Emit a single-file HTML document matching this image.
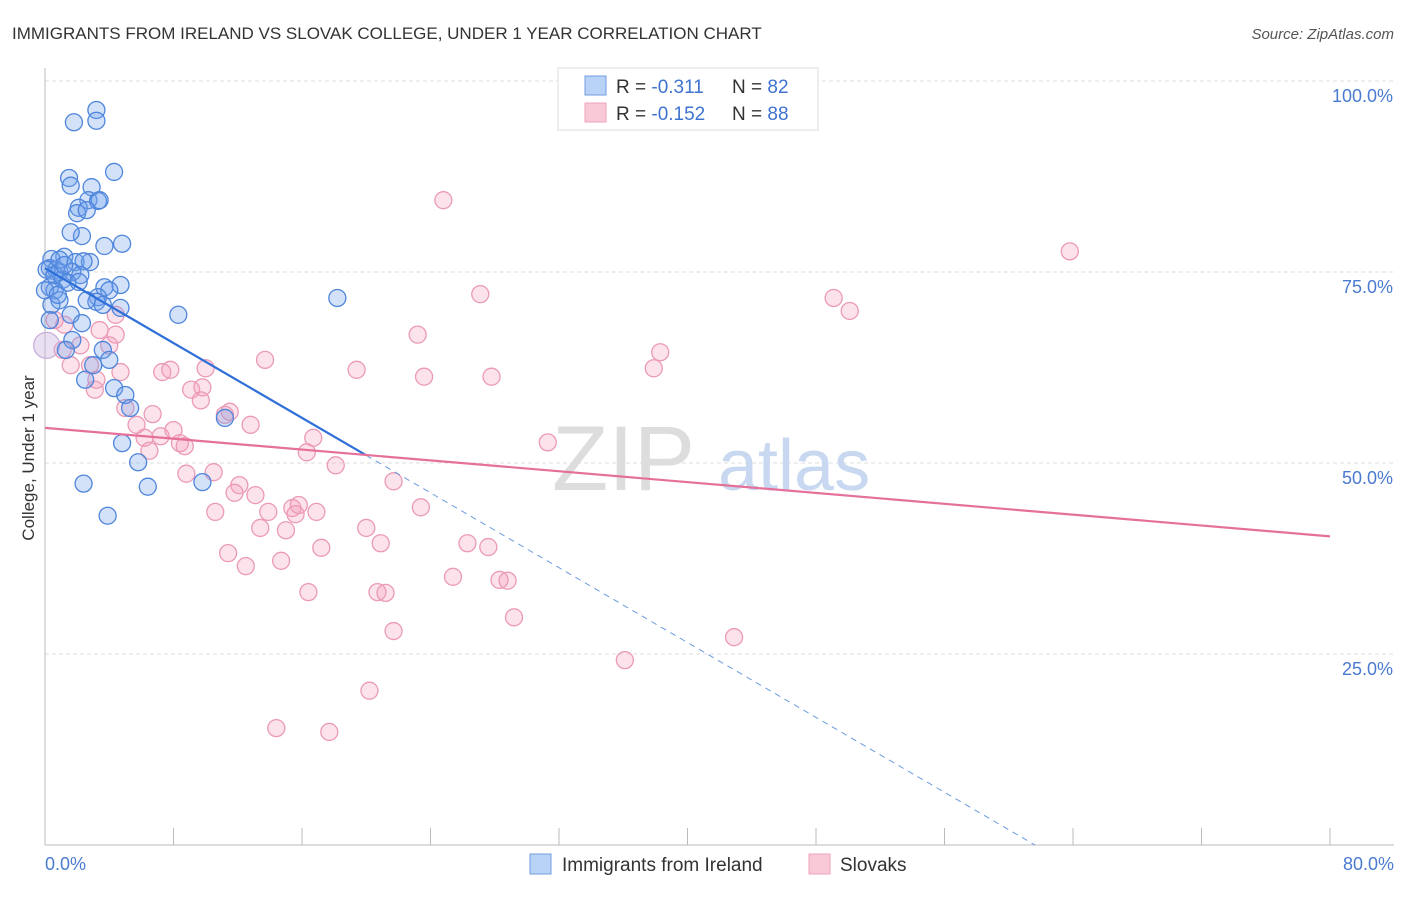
<!DOCTYPE html>
<html><head><meta charset="utf-8"><style>
body{margin:0;background:#fff;font-family:"Liberation Sans",sans-serif;}
svg text{font-family:"Liberation Sans",sans-serif;}
</style></head><body>
<svg id="chart" width="1406" height="892" viewBox="0 0 1406 892">
<text x="12" y="39" font-size="17" fill="#333">IMMIGRANTS FROM IRELAND VS SLOVAK COLLEGE, UNDER 1 YEAR CORRELATION CHART</text>
<text x="1394" y="39" font-size="15" fill="#555" font-style="italic" text-anchor="end">Source: ZipAtlas.com</text>
<g id="grid"></g>
<g><text x="552" y="490" font-size="92" fill="#ddd" font-family="Liberation Serif">ZIP</text><text x="718" y="490" font-size="72" fill="#c8d8f0">atlas</text></g>
<line x1="45" y1="68" x2="45" y2="845" stroke="#bbb"/>
<line x1="45" y1="845" x2="1394" y2="845" stroke="#bbb"/>
<g id="ticks"></g>
<g id="ylabels"></g>
<text x="34" y="458" font-size="17" fill="#333" text-anchor="middle" transform="rotate(-90 34 458)">College, Under 1 year</text>
<text x="45" y="870" font-size="18" fill="#4a7bd0">0.0%</text>
<text x="1394" y="870" font-size="18" fill="#4a7bd0" text-anchor="end">80.0%</text>
<g id="pinkPts"></g>
<g id="bluePts"></g>
<g id="trends"></g>
<g>
<rect x="558" y="68" width="260" height="62" fill="#fff" stroke="#ddd"/>
<rect x="585" y="76" width="21" height="19" fill="#b9d3f7" stroke="#6f9de0"/>
<rect x="585" y="103" width="21" height="19" fill="#f9c9d8" stroke="#eea3bc"/>
<text x="616" y="93" font-size="19" fill="#333">R = <tspan fill="#3f73d0">-0.311</tspan><tspan x="732">N = </tspan><tspan fill="#3f73d0">82</tspan></text>
<text x="616" y="120" font-size="19" fill="#333">R = <tspan fill="#3f73d0">-0.152</tspan><tspan x="732">N = </tspan><tspan fill="#3f73d0">88</tspan></text>
</g>
<g>
<rect x="530" y="854" width="21" height="20" fill="#b9d3f7" stroke="#6f9de0"/>
<text x="562" y="871" font-size="19" fill="#333">Immigrants from Ireland</text>
<rect x="809" y="854" width="21" height="20" fill="#f9c9d8" stroke="#eea3bc"/>
<text x="840" y="871" font-size="19" fill="#333">Slovaks</text>
</g>
</svg>
<script>
const yTicks=[25,50,75,100];
const yTickLabels=["25.0%","50.0%","75.0%","100.0%"];
const xTicks=[0,8,16,24,32,40,48,56,64,72,80];
const blueX=[3.2,1.8,3.2,4.3,1.5,1.6,2.9,2.7,3.3,3.4,2.1,2.0,2.6,2.3,1.6,4.8,3.7,1.2,0.4,1.9,2.8,2.4,0.3,0.7,0.9,0.1,1.7,2.2,1.1,1.4,2.1,0.3,0.6,4.7,3.7,4.0,3.3,3.2,3.6,4.7,0.9,2.6,0.4,18.2,8.3,1.6,2.3,1.7,1.3,3.6,4.0,3.0,2.5,4.3,5.0,5.3,11.2,4.8,5.8,2.4,6.4,9.8,3.9,0.3,0.9,0.6,1.2,0.0,0.8];
const blueY=[96.2,94.6,94.8,88.1,87.3,86.3,86.1,84.4,84.3,84.4,83.4,82.7,83.1,79.7,80.2,78.7,78.4,77.0,76.7,76.3,76.3,76.4,75.5,75.3,75.0,75.3,75.0,74.6,74.0,73.6,73.7,73.0,72.6,73.3,73.0,72.6,71.7,71.1,70.7,70.3,71.3,71.3,70.7,71.6,69.4,69.4,68.3,66.1,64.8,64.8,63.5,62.8,60.9,59.8,58.9,57.2,55.9,52.6,50.1,47.3,46.9,47.5,43.1,68.7,76.6,74.6,75.9,72.6,72.0];
const pinkX=[24.8,63.8,27.1,49.1,50.1,23.2,1.2,0.6,3.4,4.4,38.3,13.7,19.4,23.6,27.8,37.9,1.1,1.6,2.8,4.7,3.2,7.3,7.8,10.0,9.1,9.8,9.7,5.0,6.7,11.2,11.5,12.8,5.7,6.2,7.2,8.0,8.4,8.7,16.7,6.5,31.3,16.3,18.1,8.8,10.5,21.7,12.1,11.8,13.1,15.4,15.6,13.9,15.8,16.9,23.4,10.6,20.0,13.4,15.0,20.9,17.2,11.4,14.7,12.5,26.3,27.6,25.4,28.3,28.8,16.4,20.7,21.2,29.2,21.7,42.9,36.1,20.2,14.4,17.7,4.4,2.2,3.1,4.0];
const pinkY=[84.4,77.7,72.1,71.6,69.9,66.8,68.1,68.7,67.4,66.8,64.5,63.5,62.2,61.3,61.3,62.4,64.8,62.8,62.8,61.9,60.9,61.9,62.2,62.4,59.6,59.9,58.2,57.2,56.4,56.3,56.7,55.0,55.0,53.3,53.5,54.3,52.6,52.2,53.3,51.6,52.7,51.4,49.7,48.6,48.8,47.6,47.1,46.1,45.8,44.1,43.3,43.6,44.5,43.6,44.2,43.6,41.5,41.5,41.2,39.5,38.9,38.2,37.2,36.5,39.5,39.0,35.1,34.7,34.6,33.1,33.1,33.0,29.8,28.0,27.2,24.2,20.2,15.3,14.8,69.4,65.4,59.6,65.4];
const bigX=[0.1],bigY=[65.4];
const blueTrend=[75.5,51.0],blueTrendX=[0,20];
const pinkTrend=[54.6,40.4],pinkTrendX=[0,80];

const NS="http://www.w3.org/2000/svg";
const sx=v=>45+v/80*1285;
const sy=v=>845-v*7.64;
function mk(tag,attrs,parent){const e=document.createElementNS(NS,tag);for(const k in attrs)e.setAttribute(k,attrs[k]);parent.appendChild(e);return e;}
const grid=document.getElementById('grid'),yl=document.getElementById('ylabels');
yTicks.forEach((t,i)=>{
 const l=mk('line',{x1:45,x2:1394,y1:sy(t),y2:sy(t),stroke:'#ddd','stroke-dasharray':'4,3'},grid);
 
 
 const tx=mk('text',{x:1393,y:sy(t)+21,'font-size':18,fill:'#4a7bd0','text-anchor':'end'},yl);
 tx.textContent=yTickLabels[i];
 
 
});
const tk=document.getElementById('ticks');
xTicks.forEach(t=>{
 const l=mk('line',{x1:sx(t),x2:sx(t),y1:828,y2:845,stroke:'#bbb'},tk);
 
 
});
function pts(gid,X,Y,fill,stroke,r,name){
 const g=document.getElementById(gid);
 X.forEach((x,i)=>{
  const c=mk('circle',{cx:sx(x),cy:sy(Y[i]),r:r,fill:fill,stroke:stroke,'stroke-width':1.3},g);
  
  
 });
}
pts('pinkPts',pinkX,pinkY,'rgba(244,160,190,0.3)','#eb9ab6',8.5,'slovaks-point');
pts('pinkPts',bigX,bigY,'rgba(200,180,220,0.4)','#c9aedb',13,'mixed-point');
pts('bluePts',blueX,blueY,'rgba(110,160,235,0.3)','#4f86dc',8.5,'ireland-point');
const tr=document.getElementById('trends');
const bs=(blueTrend[1]-blueTrend[0])/(blueTrendX[1]-blueTrendX[0]);
const zeroX=-blueTrend[0]/bs;
let l=mk('line',{x1:sx(blueTrendX[0]),y1:sy(blueTrend[0]),x2:sx(blueTrendX[1]),y2:sy(blueTrend[1]),stroke:'#2f6fd8','stroke-width':2.2},tr);


l=mk('line',{x1:sx(blueTrendX[1]),y1:sy(blueTrend[1]),x2:sx(zeroX),y2:sy(0),stroke:'#6a9be0','stroke-width':1,'stroke-dasharray':'6,5'},tr);


l=mk('line',{x1:sx(pinkTrendX[0]),y1:sy(pinkTrend[0]),x2:sx(pinkTrendX[1]),y2:sy(pinkTrend[1]),stroke:'#e5709a','stroke-width':2.2},tr);


</script>
</body></html>
